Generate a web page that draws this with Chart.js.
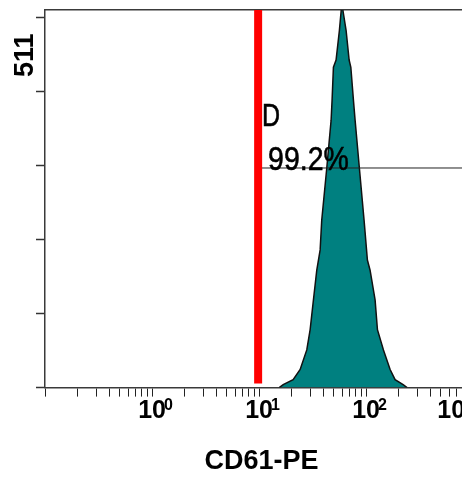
<!DOCTYPE html>
<html>
<head>
<meta charset="utf-8">
<script src="https://cdn.jsdelivr.net/npm/chart.js@4.4.1/dist/chart.umd.min.js"></script>
<style>
    html, body { margin: 0; padding: 0; background: #fff; overflow: hidden; }
    #wrap { width: 462px; height: 478px; overflow: hidden; }
    canvas { display: block; }
</style>
</head>
<body>
<div id="wrap"><canvas id="histCanvas" width="480" height="478"></canvas></div>
<script>
// ==================== بيانات المدرج ====================
const CD61_VALUES = [15.4, 16.8, 20.8, 24.2, 27.9, 30.0, 32.2, 34.6, 37.2, 38.5, 42.9, 47.1, 48.1, 49.5, 52.4, 56.3, 59.3,
                     65.0, 69.4, 72.0, 76.1, 78.9, 86.5, 95.7, 102.8, 108.9, 121.3, 127.6, 145.2, 167.6, 186.6, 221.8, 241.5];
const EVENT_COUNTS = [0, 4, 11, 25, 52, 80, 121, 162, 190, 231, 303, 369, 397, 442, 452, 493, 530,
                      493, 452, 442, 397, 369, 303, 231, 176, 162, 121, 80, 52, 25, 11, 4, 0];

const X_MIN = 0.1, X_MAX = 1110;
const Y_MAX = 521;
const DECADES = [0.1, 1, 10, 100, 1000];
const DECADE_LABELS = [null, '0', '1', '2', '3'];
const COUNT_TICKS = [0, 102.2, 204.4, 306.6, 408.8, 511];
const Y_LABEL = '511';

const GATE_NAME = 'D';
const GATE_PERCENT = '99.2%';
const GATE_FROM = 10, GATE_LEVEL = 303;
const MARKER_VALUE = 9.8;

// علامات المحور اللوغاريتمي: 1..9 في كل عقد
function logTicks() {
    let ticks = [];
    DECADES.forEach(d => {
        for(let k = 1; k <= 9; k++) {
            let v = +(d * k).toPrecision(3);
            if(v >= X_MIN && v <= X_MAX) ticks.push({ value: v, major: k === 1 });
        }
    });
    return ticks;
}

const labelsPlugin = {
    id: 'histLabels',
    afterDatasetsDraw(chart) {
        const ctx = chart.ctx;
        const xs = chart.scales.x, ys = chart.scales.y;
        const area = chart.chartArea;
        ctx.save();
        ctx.fillStyle = '#000';
        ctx.textBaseline = 'alphabetic';

        // تسميات العقود 10^n
        DECADES.forEach((d, i) => {
            if(!DECADE_LABELS[i]) return;
            let px = xs.getPixelForValue(d);
            ctx.font = 'bold 25px "Liberation Sans", Arial, sans-serif';
            let baseW = ctx.measureText('10').width;
            ctx.font = 'bold 16px "Liberation Sans", Arial, sans-serif';
            let expW = ctx.measureText(DECADE_LABELS[i]).width;
            let left = px - baseW / 2;
            // آخر تسمية تبقى داخل منطقة الرسم
            if(left + baseW + expW > area.right) left = area.right - baseW - expW - 4;
            ctx.font = 'bold 25px "Liberation Sans", Arial, sans-serif';
            ctx.textAlign = 'left';
            ctx.fillText('10', left, area.bottom + 30);
            ctx.font = 'bold 16px "Liberation Sans", Arial, sans-serif';
            ctx.fillText(DECADE_LABELS[i], left + baseW - 2, area.bottom + 22);
        });

        // عنوان المحور العمودي
        ctx.save();
        ctx.translate(33, ys.getPixelForValue(COUNT_TICKS[COUNT_TICKS.length - 1]) + 38);
        ctx.rotate(-Math.PI / 2);
        ctx.textAlign = 'center';
        ctx.font = 'bold 27px "Liberation Sans", Arial, sans-serif';
        ctx.fillText(Y_LABEL, 0, 0);
        ctx.restore();

        // اسم البوابة والنسبة
        let gx = xs.getPixelForValue(GATE_FROM);
        let gy = ys.getPixelForValue(GATE_LEVEL);
        ctx.textAlign = 'left';
        ctx.strokeStyle = '#000';
        ctx.lineWidth = 0.5;
        ctx.save();
        ctx.translate(gx + 3, gy - 42);
        ctx.scale(1, 1.22);
        ctx.font = '25px "Liberation Sans", Arial, sans-serif';
        ctx.fillText(GATE_NAME, 0, 0);
        ctx.strokeText(GATE_NAME, 0, 0);
        ctx.restore();
        ctx.save();
        ctx.translate(gx + 9, gy + 2);
        ctx.scale(1, 1.15);
        ctx.font = '28.5px "Liberation Sans", Arial, sans-serif';
        ctx.fillText(GATE_PERCENT, 0, 0);
        ctx.strokeText(GATE_PERCENT, 0, 0);
        ctx.restore();

        ctx.restore();
    }
};

const histPoints = CD61_VALUES.map((v, i) => ({ x: v, y: EVENT_COUNTS[i] }));

new Chart(document.getElementById('histCanvas').getContext('2d'), {
    type: 'line',
    data: {
        datasets: [
            { data: [{ x: MARKER_VALUE, y: 5.5 }, { x: MARKER_VALUE, y: Y_MAX + 20 }], borderColor: '#ff0000', borderWidth: 8, borderCapStyle: 'butt', pointRadius: 0, fill: false },
            { data: [{ x: GATE_FROM, y: GATE_LEVEL }, { x: X_MAX, y: GATE_LEVEL }], borderColor: '#222', borderWidth: 1, pointRadius: 0, fill: false },
            { data: histPoints, borderColor: '#111', borderWidth: 1.5, backgroundColor: '#008080', fill: 'origin', pointRadius: 0, tension: 0 }
        ]
    },
    options: {
        responsive: false,
        animation: false,
        layout: { padding: { left: 36, top: 10, right: 2, bottom: 0 } },
        plugins: { legend: { display: false }, tooltip: { enabled: false } },
        scales: {
            x: {
                type: 'logarithmic', min: X_MIN, max: X_MAX,
                afterBuildTicks: scale => { scale.ticks = logTicks(); },
                ticks: { display: false },
                grid: { drawOnChartArea: false, tickLength: 9, tickColor: '#222', tickWidth: 1 },
                border: { color: '#3a3a3a', width: 1.5 },
                title: { display: true, text: 'CD61-PE', color: '#000', font: { family: '"Liberation Sans", Arial, sans-serif', size: 27, weight: 'bold', lineHeight: 1.2 }, padding: { top: 49, bottom: 0 } }
            },
            top: {
                type: 'linear', position: 'top', min: 0, max: 1,
                ticks: { display: false },
                grid: { drawOnChartArea: false, drawTicks: false },
                border: { color: '#3a3a3a', width: 1.5 }
            },
            y: {
                type: 'linear', min: 0, max: Y_MAX,
                afterBuildTicks: scale => { scale.ticks = COUNT_TICKS.map(v => ({ value: v })); },
                ticks: { display: false },
                grid: { drawOnChartArea: false, tickLength: 9, tickColor: '#333', tickWidth: 1.5 },
                border: { color: '#3a3a3a', width: 1.5 }
            }
        }
    },
    plugins: [labelsPlugin]
});
</script>
</body>
</html>
